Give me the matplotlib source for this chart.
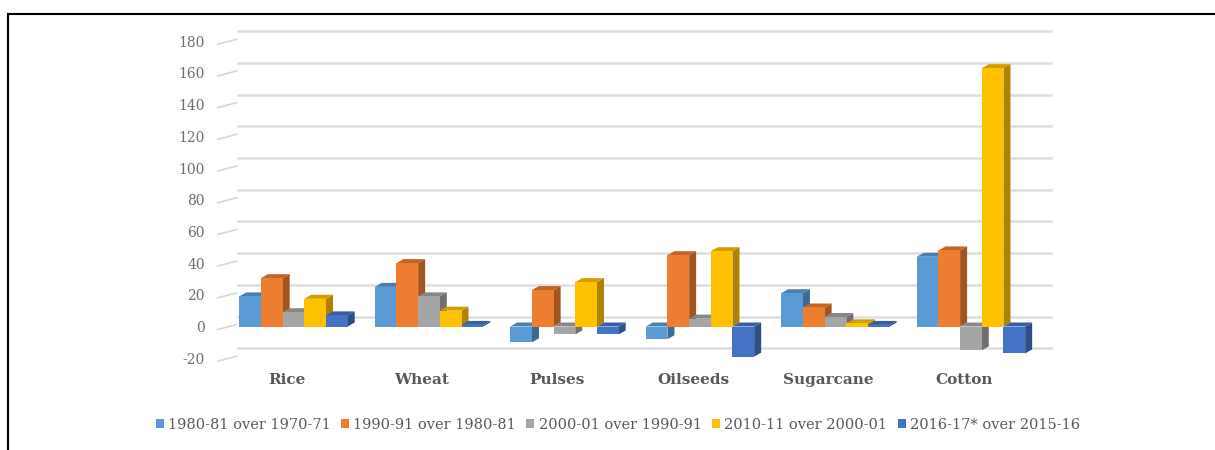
#!/usr/bin/python3

"""plot.py
Description:
    growth of area under major crops, drawn as a pseudo-3D clustered column chart
"""

import numpy as np
import matplotlib
matplotlib.use("Agg")
import matplotlib.pyplot as plt
from matplotlib.patches import Polygon, Patch
from matplotlib.lines import Line2D
from matplotlib.transforms import offset_copy, IdentityTransform
from matplotlib.colors import to_rgb

crops = ["Rice", "Wheat", "Pulses", "Oilseeds", "Sugarcane", "Cotton"]
periods = ["1980-81 over 1970-71", "1990-91 over 1980-81", "2000-01 over 1990-91",
           "2010-11 over 2000-01", "2016-17* over 2015-16"]
g_1980 = [19, 25, -10, -8, 21, 44]
g_1990 = [30.5, 40, 23, 45, 12, 48]
g_2000 = [9, 19, -5, 5, 6, -15]
g_2010 = [17.5, 10, 28, 47.5, 2, 163]
g_2016 = [7, 1, -5, -19, 1, -17]
yticks = [-20, 0, 20, 40, 60, 80, 100, 120, 140, 160, 180]

series = [g_1980, g_1990, g_2000, g_2010, g_2016]
colors = ["#5B9BD5", "#ED7D31", "#A5A5A5", "#FFC000", "#4472C4"]
text_col = "#595959"
serif = ["DejaVu Serif"]


def shade(c, f):
    return tuple(np.clip(np.array(to_rgb(c)) * f, 0, 1))


fig = plt.figure(figsize=(12.15, 4.5), dpi=100)
ax = fig.add_axes([0.1858, 0.204, 0.6691, 0.7044])
ax.set_xlim(-0.5, len(crops) - 0.5)
ax.set_ylim(-20, 180)
for s in ax.spines.values():
    s.set_visible(False)
ax.set_xticks([])
ax.set_yticks(yticks)
ax.set_yticklabels([str(t) for t in yticks], family=serif, fontsize=10, color="#6f6f6f")
ax.tick_params(axis="y", length=0, pad=15)

to_disp = ax.transData.transform
ident = IdentityTransform()

# back wall gridlines + little side-wall dashes
wall = np.array([12, 10])
for t in yticks:
    l = to_disp((-0.5, t))
    r = to_disp((len(crops) - 0.5, t))
    ax.add_line(Line2D([l[0] + wall[0], r[0] + wall[0]], [l[1] + wall[1], r[1] + wall[1]],
                       transform=ident, color="#dedede", lw=1.8, zorder=0.5, clip_on=False))
    ax.add_line(Line2D([l[0] - 8, l[0] + 11], [l[1] - 3, l[1] + 2],
                       transform=ident, color="#d8d8d8", lw=1.2, zorder=0.5, clip_on=False))

# bars with side and top faces
width = 0.16
depth = np.array([7, 4])
for i in range(len(crops)):
    for j, vals in enumerate(series):
        x = i + (j - 2) * width
        v = vals[i]
        z = 2 + j
        ax.bar(x, v, width, color=colors[j], zorder=z + 0.5, lw=0)
        x0, x1 = x - width / 2, x + width / 2
        lo, hi = min(v, 0), max(v, 0)
        br, tl, tr = to_disp((x1, lo)), to_disp((x0, hi)), to_disp((x1, hi))
        side = [br, tr, tr + depth, br + depth]
        top = [tl, tr, tr + depth, tl + depth]
        ax.add_patch(Polygon(side, closed=True, transform=ident, color=shade(colors[j], 0.68),
                             lw=0, zorder=z, clip_on=False))
        ax.add_patch(Polygon(top, closed=True, transform=ident, color=shade(colors[j], 0.82),
                             lw=0, zorder=z, clip_on=False))

# category labels
lab_tr = offset_copy(ax.transData, fig=fig, x=-7, y=-22, units="dots")
for i, c in enumerate(crops):
    ax.text(i, -20, c, transform=lab_tr, ha="center", va="center", family=serif,
            fontsize=11, fontweight="bold", color=text_col, clip_on=False)

handles = [Patch(facecolor=c, edgecolor="none") for c in colors]
leg = fig.legend(handles, periods, loc="center", bbox_to_anchor=(0.5086, 0.0556), ncol=5,
                 frameon=False, handlelength=0.55, handleheight=0.55, handletextpad=0.3,
                 columnspacing=0.7, prop={"family": serif, "size": 10.5})
for t in leg.get_texts():
    t.set_color(text_col)

# outer frame (top and left only)
fig.add_artist(Line2D([8 / 1215, 1], [1 - 14 / 450, 1 - 14 / 450], transform=fig.transFigure,
                      color="black", lw=1.5))
fig.add_artist(Line2D([8 / 1215, 8 / 1215], [0, 1 - 14 / 450], transform=fig.transFigure,
                      color="black", lw=1.5))

fig.savefig("out.png", dpi=100)
